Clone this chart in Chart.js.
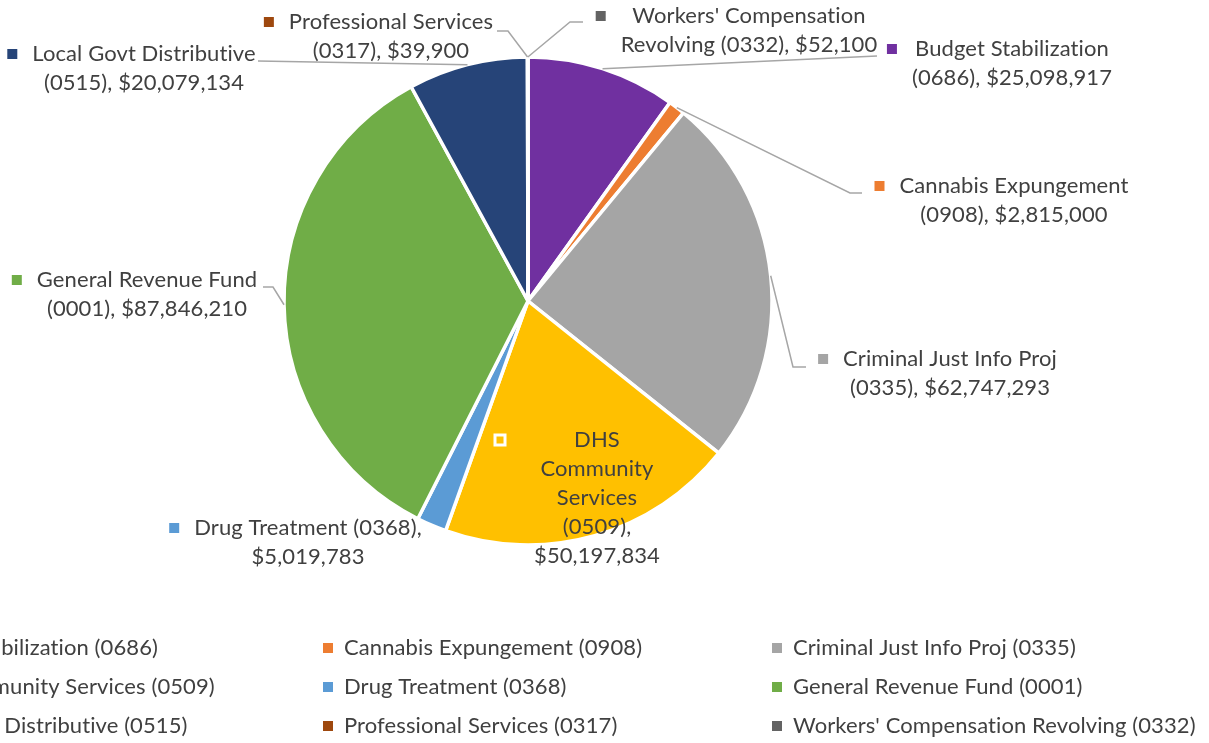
<!DOCTYPE html>
<html>
<head>
<meta charset="utf-8">
<title>Fund Sources</title>
<script src="https://cdn.jsdelivr.net/npm/chart.js@4.4.0/dist/chart.umd.min.js"></script>
<style>
  html, body { margin: 0; padding: 0; background: #fff; overflow: hidden; }
  canvas { display: block; }
</style>
</head>
<body>
<canvas id="fundChart" width="1209" height="743"></canvas>
<script>
const categories = [
  'Budget Stabilization',
  'Cannabis Expungement',
  'Criminal Just Info Proj',
  'DHS Community Services',
  'Drug Treatment',
  'General Revenue Fund',
  'Local Govt Distributive',
  'Professional Services',
  "Workers' Compensation Revolving"
];
const fundCodes = ['0686', '0908', '0335', '0509', '0368', '0001', '0515', '0317', '0332'];
const amounts = [25098917, 2815000, 62747293, 50197834, 5019783, 87846210, 20079134, 39900, 52100];
const sliceColors = ['#7030A0', '#ED7D31', '#A5A5A5', '#FFC000', '#5B9BD5', '#70AD47', '#264478', '#9E480E', '#636363'];

const FONT = '"Lato", "Open Sans", sans-serif';
const TEXT_COLOR = '#404040';
const LEADER_COLOR = '#A6A6A6';
const LABEL_SIZE = 22;
const LINE_HEIGHT = 29;

// where each data label sits: text centre x, first line y, words per line,
// and the bend points of the leader line before it reaches the slice
const labelLayout = [
  { cx: 1012, y: 49, words: [2, 2], leader: [[877, 56]] },
  { cx: 1014, y: 186, words: [2, 2], leader: [[862, 193], [850, 193]] },
  { cx: 950, y: 359, words: [4, 2], leader: [[806, 367], [793, 367]] },
  { cx: 597, y: 440, words: [1, 1, 1, 1, 1], inside: true, markerX: 500 },
  { cx: 308, y: 528, words: [3, 1] },
  { cx: 147, y: 280, words: [3, 2], leader: [[263, 287], [273, 287]] },
  { cx: 144, y: 54, words: [3, 2], leader: [[258, 61]] },
  { cx: 391, y: 22, words: [2, 2], leader: [[497, 31], [508, 31]] },
  { cx: 749, y: 16, words: [2, 3], leader: [[583, 22], [570, 22]] }
];

function labelText(i) {
  return categories[i] + ' (' + fundCodes[i] + '), $' + amounts[i].toLocaleString('en-US');
}

function splitLines(text, counts) {
  const words = text.split(' ');
  const lines = [];
  let k = 0;
  counts.forEach(n => {
    lines.push(words.slice(k, k + n).join(' '));
    k += n;
  });
  return lines;
}

function setTextStyle(ctx) {
  ctx.font = LABEL_SIZE + 'px ' + FONT;
  // a hair of spacing keeps Lato from joining "ti" into a ligature
  ctx.letterSpacing = '0.1px';
  ctx.textBaseline = 'middle';
}

const dataLabels = {
  id: 'dataLabels',
  afterDatasetsDraw(chart) {
    const ctx = chart.ctx;
    const arcs = chart.getDatasetMeta(0).data;
    ctx.save();
    setTextStyle(ctx);
    ctx.textAlign = 'center';

    labelLayout.forEach((lay, i) => {
      const arc = arcs[i];
      const { x, y, startAngle, endAngle, outerRadius } = arc.getProps(['x', 'y', 'startAngle', 'endAngle', 'outerRadius'], true);
      const mid = (startAngle + endAngle) / 2;

      if (lay.leader) {
        ctx.strokeStyle = LEADER_COLOR;
        ctx.lineWidth = 1.5;
        ctx.beginPath();
        ctx.moveTo(lay.leader[0][0], lay.leader[0][1]);
        lay.leader.slice(1).forEach(p => ctx.lineTo(p[0], p[1]));
        ctx.lineTo(x + Math.cos(mid) * outerRadius, y + Math.sin(mid) * outerRadius);
        ctx.stroke();
      }

      const lines = splitLines(labelText(i), lay.words);
      const widest = Math.max(...lines.map(l => ctx.measureText(l).width));
      const mx = lay.markerX !== undefined ? lay.markerX : lay.cx - widest / 2 - 20;

      ctx.fillStyle = sliceColors[i];
      ctx.fillRect(mx - 5, lay.y - 5, 10, 10);
      if (lay.inside) {
        ctx.strokeStyle = '#FFFFFF';
        ctx.lineWidth = 3;
        ctx.strokeRect(mx - 5, lay.y - 5, 10, 10);
      }

      ctx.fillStyle = TEXT_COLOR;
      lines.forEach((line, j) => {
        ctx.fillText(line, lay.cx, lay.y + j * LINE_HEIGHT);
      });
    });
    ctx.restore();
  }
};

// three-column legend under the pie; the first column runs off the left edge
const gridLegend = {
  id: 'gridLegend',
  afterDraw(chart) {
    const ctx = chart.ctx;
    ctx.save();
    setTextStyle(ctx);
    ctx.textAlign = 'left';
    categories.forEach((name, i) => {
      const col = i % 3;
      const row = Math.floor(i / 3);
      const mx = -121 + col * 449;
      const my = 648 + row * 39;
      ctx.fillStyle = sliceColors[i];
      ctx.fillRect(mx - 5, my - 5, 10, 10);
      ctx.fillStyle = TEXT_COLOR;
      ctx.fillText(name + ' (' + fundCodes[i] + ')', mx + 16, my);
    });
    ctx.restore();
  }
};

new Chart(document.getElementById('fundChart').getContext('2d'), {
  type: 'pie',
  data: {
    labels: categories,
    datasets: [{
      data: amounts,
      backgroundColor: sliceColors,
      borderColor: '#FFFFFF',
      borderWidth: 3.5
    }]
  },
  options: {
    responsive: false,
    animation: false,
    devicePixelRatio: 1,
    radius: 244,
    layout: {
      padding: { left: 285, right: 438, top: 58, bottom: 199 }
    },
    plugins: {
      legend: { display: false },
      tooltip: { enabled: false }
    }
  },
  plugins: [dataLabels, gridLegend]
});
</script>
</body>
</html>
